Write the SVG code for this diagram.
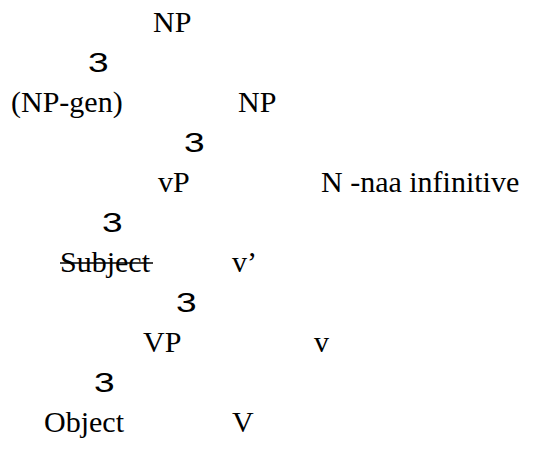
<svg xmlns="http://www.w3.org/2000/svg" width="533" height="451" viewBox="0 0 533 451">
  <style>
    .lbl { font-family: "Liberation Serif", "Times New Roman", serif; font-size: 30px; fill: #000; }
    .br { font-family: "Liberation Sans", Arial, sans-serif; font-size: 27.5px; fill: #000; }
    .strike { stroke: #000; stroke-width: 1.6; }
  </style>
  <rect width="533" height="451" fill="#fff"/>

  <!-- branching marks between tree levels -->
  <g id="connectors">
    <text class="br" transform="translate(88,72) scale(1.35,1)">3</text>
    <text class="br" transform="translate(184,152) scale(1.35,1)">3</text>
    <text class="br" transform="translate(102,232) scale(1.35,1)">3</text>
    <text class="br" transform="translate(176,312) scale(1.35,1)">3</text>
    <text class="br" transform="translate(94,392) scale(1.35,1)">3</text>
  </g>

  <g id="np-top"><text class="lbl" x="153" y="32">NP</text></g>
  <g id="np-gen"><text class="lbl" x="11" y="112">(NP-gen)</text></g>
  <g id="np-inner"><text class="lbl" x="238" y="112">NP</text></g>
  <g id="vP"><text class="lbl" x="158" y="192">vP</text></g>
  <g id="n-naa"><text class="lbl" x="321" y="192">N -naa infinitive</text></g>
  <g id="subject">
    <text class="lbl" x="60" y="272">Subject</text>
    <line class="strike" x1="60" y1="263" x2="153" y2="263"/>
  </g>
  <g id="v-bar"><text class="lbl" x="232" y="272">v’</text></g>
  <g id="VP"><text class="lbl" x="143" y="352">VP</text></g>
  <g id="v-head"><text class="lbl" x="314" y="352">v</text></g>
  <g id="object"><text class="lbl" x="44" y="432">Object</text></g>
  <g id="V-head"><text class="lbl" x="232" y="432">V</text></g>
</svg>
